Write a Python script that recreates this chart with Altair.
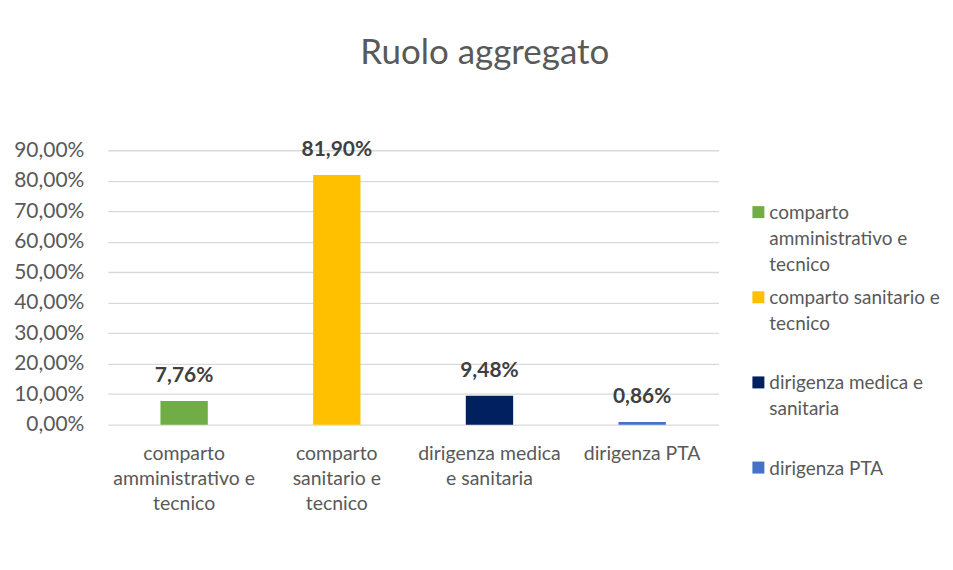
import altair as alt
import pandas as pd

categories = [
    "comparto amministrativo e tecnico",
    "comparto sanitario e tecnico",
    "dirigenza medica e sanitaria",
    "dirigenza PTA",
]
values = [7.76, 81.90, 9.48, 0.86]
axis_labels = [
    "comparto|amministrativo e|tecnico",
    "comparto|sanitario e|tecnico",
    "dirigenza medica|e sanitaria",
    "dirigenza PTA",
]
legend_labels = [
    "comparto|amministrativo e|tecnico",
    "comparto sanitario e|tecnico",
    "dirigenza medica e|sanitaria",
    "dirigenza PTA",
]
colors = ["#70ad47", "#ffc000", "#002060", "#4472c4"]
y_ticks = [0, 10, 20, 30, 40, 50, 60, 70, 80, 90]

df = pd.DataFrame({
    "categoria": categories,
    "valore": values,
    "asse": axis_labels,
    "legenda": legend_labels,
})

FONT = "Lato"
GREY = "#595959"

color_enc = alt.Color(
    "legenda:N",
    sort=legend_labels,
    scale=alt.Scale(domain=legend_labels, range=colors),
    legend=None,
)

x_enc = alt.X(
    "asse:N",
    sort=axis_labels,
    scale=alt.Scale(paddingInner=0.69, paddingOuter=0.345),
    axis=alt.Axis(
        title=None,
        labelExpr="split(datum.label, '|')",
        labelAngle=0,
        labelFontSize=19.5,
        labelFont=FONT,
        labelColor=GREY,
        labelPadding=20,
        labelLineHeight=25,
        labelBaseline="top",
        ticks=False,
        domain=False,
        grid=False,
    ),
)
y_enc = alt.Y(
    "valore:Q",
    scale=alt.Scale(domain=[0, 90], nice=False),
    axis=alt.Axis(
        title=None,
        values=y_ticks,
        labelExpr="replace(format(datum.value, '.2f'), '.', ',') + '%'",
        labelFontSize=21,
        labelFont=FONT,
        labelColor=GREY,
        labelPadding=24,
        labelOverlap=False,
        ticks=False,
        domain=False,
        grid=True,
        gridColor="#d9d9d9",
        gridWidth=1.3,
    ),
)

base = alt.Chart(df).transform_calculate(
    etichetta="replace(format(datum.valore, '.2f'), '.', ',') + '%'"
).encode(x=x_enc, y=y_enc)

bars = base.mark_bar().encode(color=color_enc)

text = base.mark_text(
    font=FONT, fontSize=21, fontWeight="bold", color="#404040", dy=-25, baseline="middle"
).encode(text="etichetta:N")

main = alt.layer(bars, text).properties(width=612, height=275)

# legend panel drawn from the same categories
leg_y = alt.Y(
    "legenda:N",
    sort=legend_labels,
    scale=alt.Scale(type="point", domain=legend_labels, range=[62, 318], padding=0),
    axis=None,
)
leg_sq = alt.Chart(df).mark_square(size=144, opacity=1).encode(
    x=alt.value(6), y=leg_y, color=color_enc
)
leg_txt = alt.Chart(df).mark_text(
    align="left", baseline="alphabetic", dy=7, lineBreak="|", lineHeight=26,
    font=FONT, fontSize=19, color=GREY,
).encode(x=alt.value(17), y=leg_y, text="legenda:N")
legend = alt.layer(leg_sq, leg_txt).properties(width=185, height=275)

chart = (
    alt.hconcat(main, legend, spacing=34, bounds="flush")
    .properties(
        padding={"left": 5, "top": 27, "right": 5, "bottom": 5},
        title=alt.TitleParams(
            "Ruolo aggregato",
            fontSize=35,
            font=FONT,
            color=GREY,
            fontWeight="normal",
            anchor="middle",
            frame="bounds",
            offset=68,
            dx=8,
        ),
    )
    .configure_view(stroke=None)
)

chart.save("out.html", embed_options={"renderer": "svg", "actions": False})
